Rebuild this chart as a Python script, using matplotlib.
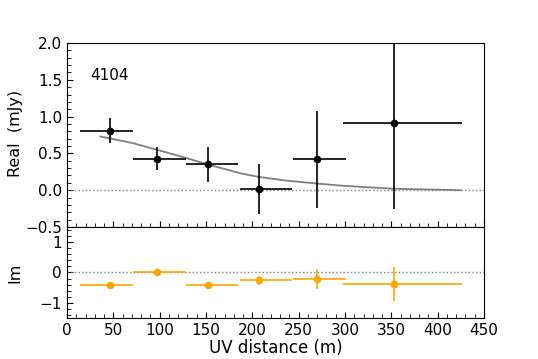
import matplotlib.pyplot as plt
import numpy as np

# binned visibilities
uv = [46, 97, 152, 207, 270, 353]
uv_lo = [14, 71, 128, 187, 244, 298]
uv_hi = [71, 128, 185, 243, 301, 426]
real = [0.81, 0.43, 0.35, 0.01, 0.42, 0.91]
real_err = [0.17, 0.16, 0.24, 0.34, 0.66, 1.17]
imag = [-0.40, 0.0, -0.41, -0.25, -0.21, -0.38]
imag_err = [0.04, 0.03, 0.10, 0.15, 0.32, 0.56]

# model curve
model_uv = [36, 71, 97, 128, 152, 187, 207, 237, 270, 298, 352, 425]
model_re = [0.73, 0.64, 0.55, 0.44, 0.35, 0.23, 0.18, 0.13, 0.09, 0.06, 0.02, 0.0]

label = '4104'

uv = np.array(uv)
xerr = [uv - np.array(uv_lo), np.array(uv_hi) - uv]

fig = plt.figure(figsize=(5.38, 3.59), dpi=100)
ax1 = fig.add_axes([0.1245, 0.3677, 0.7751, 0.5125])
ax2 = fig.add_axes([0.1245, 0.1142, 0.7751, 0.2535], sharex=ax1)

ax1.axhline(0, color='gray', ls=':', lw=1)
ax1.plot(model_uv, model_re, color='gray', lw=1.3)
ax1.errorbar(uv, real, xerr=xerr, yerr=real_err, fmt='o', color='black',
             ms=4.5, elinewidth=1.2, capsize=0)
ax1.text(25, 1.5, label, fontsize=11)
ax1.set_ylim(-0.5, 2.0)
ax1.set_yticks([-0.5, 0.0, 0.5, 1.0, 1.5, 2.0])
ax1.set_ylabel('Real  (mJy)', fontsize=11.5)
ax1.tick_params(labelbottom=False)

ax2.axhline(0, color='gray', ls=':', lw=1)
ax2.errorbar(uv, imag, xerr=xerr, yerr=imag_err, fmt='o', color='orange',
             ms=4.5, elinewidth=1.2, capsize=0)
ax2.set_ylim(-1.5, 1.5)
ax2.set_yticks([-1, 0, 1])
ax2.set_ylabel('Im', fontsize=11.5)
ax2.set_xlim(0, 450)
ax2.set_xticks(np.arange(0, 451, 50))
ax2.set_xlabel('UV distance (m)', fontsize=12, labelpad=1)

ax1.set_xticks(np.arange(0, 451, 10), minor=True)
ax1.set_yticks(np.arange(-0.5, 2.01, 0.1), minor=True)
ax2.set_yticks(np.arange(-1.4, 1.41, 0.2), minor=True)

ax1.yaxis.set_label_coords(-0.106, 0.51)
ax2.yaxis.set_label_coords(-0.106, 0.5)
for ax in (ax1, ax2):
    ax.tick_params(which='both', direction='in', labelsize=11)
    ax.tick_params(which='major', length=4)
    ax.tick_params(which='minor', length=3)

fig.savefig('out.png', dpi=100)
